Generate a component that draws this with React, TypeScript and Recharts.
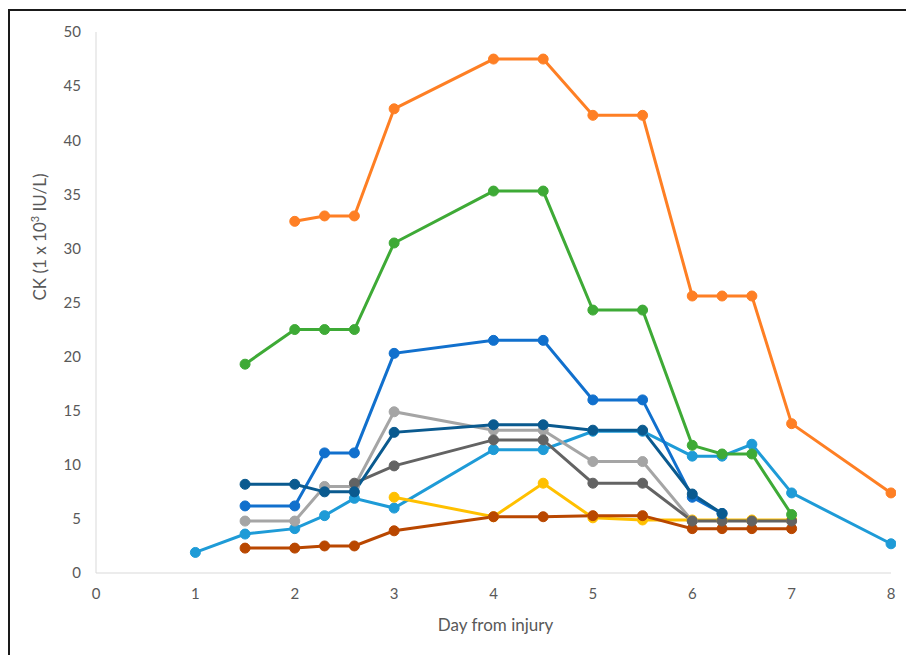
import React from 'react';
import { LineChart, Line, XAxis, YAxis } from 'recharts';

const FONT = 'Lato, "Open Sans", sans-serif';
const TEXT = '#595959';

// day from injury / CK values (x 10^3 IU/L), one array pair per patient
const lightBlueDays = [1, 1.5, 2, 2.3, 2.6, 3, 4, 4.5, 5, 5.5, 6, 6.3, 6.6, 7, 8];
const lightBlueCk = [1.9, 3.6, 4.1, 5.3, 6.9, 6.0, 11.4, 11.4, 13.1, 13.1, 10.8, 10.8, 11.9, 7.4, 2.7];

const yellowDays = [3, 4, 4.5, 5, 5.5, 6, 6.3, 6.6, 7];
const yellowCk = [7.0, 5.2, 8.3, 5.1, 4.9, 4.9, 4.9, 4.9, 4.9];

const lightGrayDays = [1.5, 2, 2.3, 2.6, 3, 4, 4.5, 5, 5.5, 6];
const lightGrayCk = [4.8, 4.8, 8.0, 8.0, 14.9, 13.2, 13.2, 10.3, 10.3, 4.8];

const brownDays = [1.5, 2, 2.3, 2.6, 3, 4, 4.5, 5, 5.5, 6, 6.3, 6.6, 7];
const brownCk = [2.3, 2.3, 2.5, 2.5, 3.9, 5.2, 5.2, 5.3, 5.3, 4.1, 4.1, 4.1, 4.1];

const darkGrayDays = [2.6, 3, 4, 4.5, 5, 5.5, 6, 6.3, 6.6, 7];
const darkGrayCk = [8.3, 9.9, 12.3, 12.3, 8.3, 8.3, 4.8, 4.8, 4.8, 4.8];

const blueDays = [1.5, 2, 2.3, 2.6, 3, 4, 4.5, 5, 5.5, 6, 6.3];
const blueCk = [6.2, 6.2, 11.1, 11.1, 20.3, 21.5, 21.5, 16.0, 16.0, 7.0, 5.5];

const navyDays = [1.5, 2, 2.3, 2.6, 3, 4, 4.5, 5, 5.5, 6, 6.3];
const navyCk = [8.2, 8.2, 7.5, 7.5, 13.0, 13.7, 13.7, 13.2, 13.2, 7.3, 5.5];

const greenDays = [1.5, 2, 2.3, 2.6, 3, 4, 4.5, 5, 5.5, 6, 6.3, 6.6, 7];
const greenCk = [19.3, 22.5, 22.5, 22.5, 30.5, 35.3, 35.3, 24.3, 24.3, 11.8, 11.0, 11.0, 5.4];

const orangeDays = [2, 2.3, 2.6, 3, 4, 4.5, 5, 5.5, 6, 6.3, 6.6, 7, 8];
const orangeCk = [32.5, 33.0, 33.0, 42.9, 47.5, 47.5, 42.3, 42.3, 25.6, 25.6, 25.6, 13.8, 7.4];

const xTicks = [0, 1, 2, 3, 4, 5, 6, 7, 8];
const yTicks = [0, 5, 10, 15, 20, 25, 30, 35, 40, 45, 50];

const toPoints = (days: number[], ck: number[]) => days.map((d, i) => ({ x: d, y: ck[i] }));

// bottom to top drawing order
const series = [
  { key: 'lightBlue', color: '#1E9BD7', data: toPoints(lightBlueDays, lightBlueCk) },
  { key: 'yellow', color: '#FFC000', data: toPoints(yellowDays, yellowCk) },
  { key: 'lightGray', color: '#A5A5A5', data: toPoints(lightGrayDays, lightGrayCk) },
  { key: 'brown', color: '#B94700', data: toPoints(brownDays, brownCk) },
  { key: 'darkGray', color: '#636363', data: toPoints(darkGrayDays, darkGrayCk) },
  { key: 'blue', color: '#1170CD', data: toPoints(blueDays, blueCk) },
  { key: 'navy', color: '#0A5A8F', data: toPoints(navyDays, navyCk) },
  { key: 'green', color: '#3EAA36', data: toPoints(greenDays, greenCk) },
  { key: 'orange', color: '#FE7F24', data: toPoints(orangeDays, orangeCk) },
];

const tickStyle = { fontFamily: FONT, fontSize: 15, fill: TEXT };

export default function App() {
  return (
    <div style={{ position: 'fixed', left: 0, top: 0, width: 906, height: 655, overflow: 'hidden', background: '#fff' }}>
      <div style={{ position: 'absolute', left: 8, top: 8 }}>
        <LineChart
          width={888}
          height={647}
          margin={{ top: 24, right: 5, bottom: 22, left: 28 }}
          style={{ outline: 'none' }}
          accessibilityLayer={false}
        >
          <XAxis
            type="number"
            dataKey="x"
            domain={[0, 8]}
            ticks={xTicks}
            allowDuplicatedCategory={false}
            tickLine={false}
            tickMargin={9}
            height={60}
            stroke="#D9D9D9"
            tick={tickStyle}
            label={{
              content: ({ viewBox }: any) => (
                <text
                  x={viewBox.x + viewBox.width / 2 + 2}
                  y={viewBox.y + 58}
                  textAnchor="middle"
                  fontFamily={FONT}
                  fontSize={17}
                  fill={TEXT}
                >
                  Day from injury
                </text>
              ),
            }}
          />
          <YAxis
            type="number"
            domain={[0, 50]}
            ticks={yTicks}
            tickLine={false}
            tickMargin={9}
            width={60}
            stroke="#D9D9D9"
            tick={tickStyle}
            label={{
              content: () => {
                const cx = 38;
                const cy = 229;
                return (
                  <text
                    x={cx}
                    y={cy}
                    transform={`rotate(-90 ${cx} ${cy})`}
                    textAnchor="middle"
                    fontFamily={FONT}
                    fontSize={17}
                    fill={TEXT}
                  >
                    CK (1 x 10
                    <tspan fontSize={11} dy={-7}>3</tspan>
                    <tspan dy={7}> IU/L)</tspan>
                  </text>
                );
              },
            }}
          />
          {series.map((s) => (
            <Line
              key={s.key}
              data={s.data}
              dataKey="y"
              type="linear"
              stroke={s.color}
              strokeWidth={3}
              dot={{ r: 5, fill: s.color, stroke: s.color, strokeWidth: 1 }}
              activeDot={false}
              isAnimationActive={false}
            />
          ))}
        </LineChart>
      </div>
      {/* frame: top and left edges only */}
      <div style={{ position: 'absolute', left: 8, top: 9, width: 898, height: 2, background: '#1a1a1a' }} />
      <div style={{ position: 'absolute', left: 8, top: 9, width: 2, height: 646, background: '#1a1a1a' }} />
    </div>
  );
}
